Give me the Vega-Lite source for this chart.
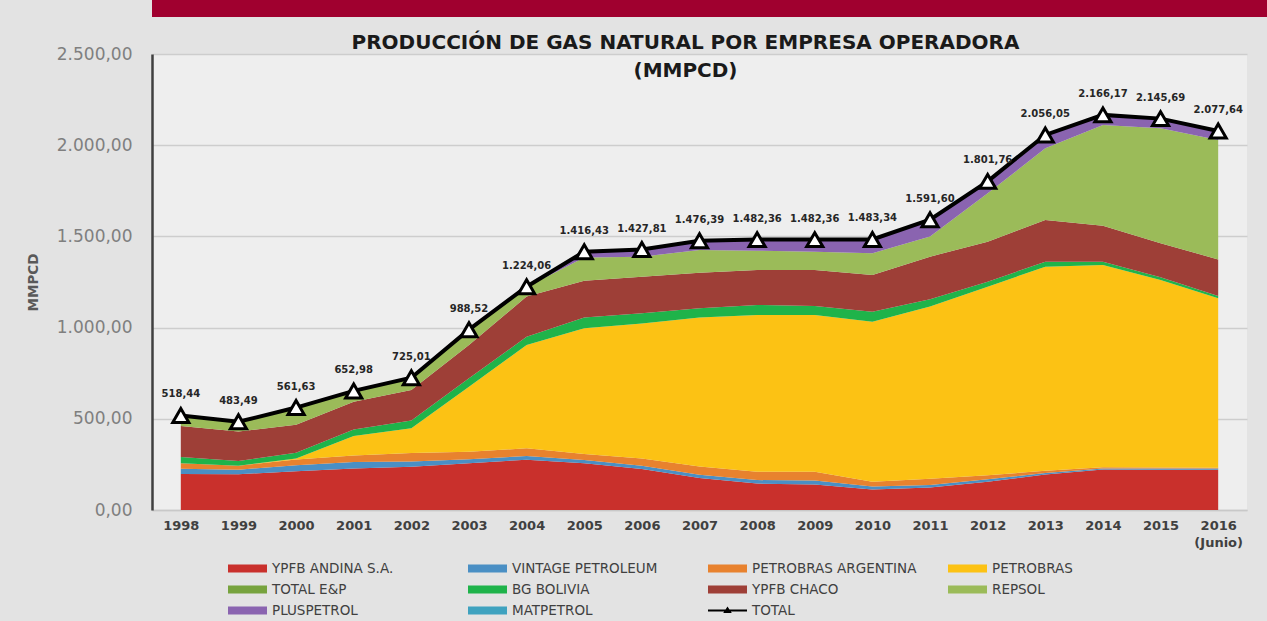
{
"$schema": "https://vega.github.io/schema/vega-lite/v6.json",
"background": "#e3e3e3",
"padding": {"left": 6, "top": 0, "right": 0, "bottom": 12},
"spacing": 16,
"columns": 1,
"align": "none",
"config": {
  "locale": {"number": {"decimal": ",", "thousands": ".", "grouping": [3], "currency": ["", ""]}},
  "view": {"stroke": null},
  "font": "DejaVu Sans"
},
"datasets": {
"empresas": [
{"anio":1998,"empresa":"YPFB ANDINA S.A.","mmpcd":198},{"anio":1999,"empresa":"YPFB ANDINA S.A.","mmpcd":196},{"anio":2000,"empresa":"YPFB ANDINA S.A.","mmpcd":212},{"anio":2001,"empresa":"YPFB ANDINA S.A.","mmpcd":228},{"anio":2002,"empresa":"YPFB ANDINA S.A.","mmpcd":237},{"anio":2003,"empresa":"YPFB ANDINA S.A.","mmpcd":256},{"anio":2004,"empresa":"YPFB ANDINA S.A.","mmpcd":276},{"anio":2005,"empresa":"YPFB ANDINA S.A.","mmpcd":256},{"anio":2006,"empresa":"YPFB ANDINA S.A.","mmpcd":225},{"anio":2007,"empresa":"YPFB ANDINA S.A.","mmpcd":176},{"anio":2008,"empresa":"YPFB ANDINA S.A.","mmpcd":145},{"anio":2009,"empresa":"YPFB ANDINA S.A.","mmpcd":140},{"anio":2010,"empresa":"YPFB ANDINA S.A.","mmpcd":112},{"anio":2011,"empresa":"YPFB ANDINA S.A.","mmpcd":124},{"anio":2012,"empresa":"YPFB ANDINA S.A.","mmpcd":155},{"anio":2013,"empresa":"YPFB ANDINA S.A.","mmpcd":195},{"anio":2014,"empresa":"YPFB ANDINA S.A.","mmpcd":222},{"anio":2015,"empresa":"YPFB ANDINA S.A.","mmpcd":221},{"anio":2016,"empresa":"YPFB ANDINA S.A.","mmpcd":221},
{"anio":1998,"empresa":"VINTAGE PETROLEUM","mmpcd":28},{"anio":1999,"empresa":"VINTAGE PETROLEUM","mmpcd":25},{"anio":2000,"empresa":"VINTAGE PETROLEUM","mmpcd":33},{"anio":2001,"empresa":"VINTAGE PETROLEUM","mmpcd":35},{"anio":2002,"empresa":"VINTAGE PETROLEUM","mmpcd":29},{"anio":2003,"empresa":"VINTAGE PETROLEUM","mmpcd":22},{"anio":2004,"empresa":"VINTAGE PETROLEUM","mmpcd":20},{"anio":2005,"empresa":"VINTAGE PETROLEUM","mmpcd":18},{"anio":2006,"empresa":"VINTAGE PETROLEUM","mmpcd":17},{"anio":2007,"empresa":"VINTAGE PETROLEUM","mmpcd":17},{"anio":2008,"empresa":"VINTAGE PETROLEUM","mmpcd":19},{"anio":2009,"empresa":"VINTAGE PETROLEUM","mmpcd":22},{"anio":2010,"empresa":"VINTAGE PETROLEUM","mmpcd":17},{"anio":2011,"empresa":"VINTAGE PETROLEUM","mmpcd":13},{"anio":2012,"empresa":"VINTAGE PETROLEUM","mmpcd":13},{"anio":2013,"empresa":"VINTAGE PETROLEUM","mmpcd":8},{"anio":2014,"empresa":"VINTAGE PETROLEUM","mmpcd":6},{"anio":2015,"empresa":"VINTAGE PETROLEUM","mmpcd":6},{"anio":2016,"empresa":"VINTAGE PETROLEUM","mmpcd":6},
{"anio":1998,"empresa":"PETROBRAS ARGENTINA","mmpcd":30},{"anio":1999,"empresa":"PETROBRAS ARGENTINA","mmpcd":22},{"anio":2000,"empresa":"PETROBRAS ARGENTINA","mmpcd":32},{"anio":2001,"empresa":"PETROBRAS ARGENTINA","mmpcd":36},{"anio":2002,"empresa":"PETROBRAS ARGENTINA","mmpcd":46},{"anio":2003,"empresa":"PETROBRAS ARGENTINA","mmpcd":42},{"anio":2004,"empresa":"PETROBRAS ARGENTINA","mmpcd":42},{"anio":2005,"empresa":"PETROBRAS ARGENTINA","mmpcd":33},{"anio":2006,"empresa":"PETROBRAS ARGENTINA","mmpcd":41},{"anio":2007,"empresa":"PETROBRAS ARGENTINA","mmpcd":45},{"anio":2008,"empresa":"PETROBRAS ARGENTINA","mmpcd":46},{"anio":2009,"empresa":"PETROBRAS ARGENTINA","mmpcd":48},{"anio":2010,"empresa":"PETROBRAS ARGENTINA","mmpcd":26},{"anio":2011,"empresa":"PETROBRAS ARGENTINA","mmpcd":35},{"anio":2012,"empresa":"PETROBRAS ARGENTINA","mmpcd":22},{"anio":2013,"empresa":"PETROBRAS ARGENTINA","mmpcd":12},{"anio":2014,"empresa":"PETROBRAS ARGENTINA","mmpcd":7},{"anio":2015,"empresa":"PETROBRAS ARGENTINA","mmpcd":6},{"anio":2016,"empresa":"PETROBRAS ARGENTINA","mmpcd":5},
{"anio":1998,"empresa":"PETROBRAS","mmpcd":0},{"anio":1999,"empresa":"PETROBRAS","mmpcd":0},{"anio":2000,"empresa":"PETROBRAS","mmpcd":5},{"anio":2001,"empresa":"PETROBRAS","mmpcd":107},{"anio":2002,"empresa":"PETROBRAS","mmpcd":136},{"anio":2003,"empresa":"PETROBRAS","mmpcd":356},{"anio":2004,"empresa":"PETROBRAS","mmpcd":567},{"anio":2005,"empresa":"PETROBRAS","mmpcd":689},{"anio":2006,"empresa":"PETROBRAS","mmpcd":740},{"anio":2007,"empresa":"PETROBRAS","mmpcd":818},{"anio":2008,"empresa":"PETROBRAS","mmpcd":859},{"anio":2009,"empresa":"PETROBRAS","mmpcd":859},{"anio":2010,"empresa":"PETROBRAS","mmpcd":877},{"anio":2011,"empresa":"PETROBRAS","mmpcd":943},{"anio":2012,"empresa":"PETROBRAS","mmpcd":1034},{"anio":2013,"empresa":"PETROBRAS","mmpcd":1119},{"anio":2014,"empresa":"PETROBRAS","mmpcd":1108},{"anio":2015,"empresa":"PETROBRAS","mmpcd":1028},{"anio":2016,"empresa":"PETROBRAS","mmpcd":929},
{"anio":1998,"empresa":"TOTAL E&P","mmpcd":0},{"anio":1999,"empresa":"TOTAL E&P","mmpcd":0},{"anio":2000,"empresa":"TOTAL E&P","mmpcd":0},{"anio":2001,"empresa":"TOTAL E&P","mmpcd":0},{"anio":2002,"empresa":"TOTAL E&P","mmpcd":0},{"anio":2003,"empresa":"TOTAL E&P","mmpcd":0},{"anio":2004,"empresa":"TOTAL E&P","mmpcd":0},{"anio":2005,"empresa":"TOTAL E&P","mmpcd":0},{"anio":2006,"empresa":"TOTAL E&P","mmpcd":0},{"anio":2007,"empresa":"TOTAL E&P","mmpcd":0},{"anio":2008,"empresa":"TOTAL E&P","mmpcd":0},{"anio":2009,"empresa":"TOTAL E&P","mmpcd":0},{"anio":2010,"empresa":"TOTAL E&P","mmpcd":0},{"anio":2011,"empresa":"TOTAL E&P","mmpcd":0},{"anio":2012,"empresa":"TOTAL E&P","mmpcd":0},{"anio":2013,"empresa":"TOTAL E&P","mmpcd":0},{"anio":2014,"empresa":"TOTAL E&P","mmpcd":0},{"anio":2015,"empresa":"TOTAL E&P","mmpcd":0},{"anio":2016,"empresa":"TOTAL E&P","mmpcd":0},
{"anio":1998,"empresa":"BG BOLIVIA","mmpcd":34},{"anio":1999,"empresa":"BG BOLIVIA","mmpcd":25},{"anio":2000,"empresa":"BG BOLIVIA","mmpcd":32},{"anio":2001,"empresa":"BG BOLIVIA","mmpcd":36},{"anio":2002,"empresa":"BG BOLIVIA","mmpcd":42},{"anio":2003,"empresa":"BG BOLIVIA","mmpcd":46},{"anio":2004,"empresa":"BG BOLIVIA","mmpcd":45},{"anio":2005,"empresa":"BG BOLIVIA","mmpcd":60},{"anio":2006,"empresa":"BG BOLIVIA","mmpcd":55},{"anio":2007,"empresa":"BG BOLIVIA","mmpcd":50},{"anio":2008,"empresa":"BG BOLIVIA","mmpcd":55},{"anio":2009,"empresa":"BG BOLIVIA","mmpcd":49},{"anio":2010,"empresa":"BG BOLIVIA","mmpcd":55},{"anio":2011,"empresa":"BG BOLIVIA","mmpcd":40},{"anio":2012,"empresa":"BG BOLIVIA","mmpcd":28},{"anio":2013,"empresa":"BG BOLIVIA","mmpcd":27},{"anio":2014,"empresa":"BG BOLIVIA","mmpcd":18},{"anio":2015,"empresa":"BG BOLIVIA","mmpcd":15},{"anio":2016,"empresa":"BG BOLIVIA","mmpcd":12},
{"anio":1998,"empresa":"YPFB CHACO","mmpcd":170},{"anio":1999,"empresa":"YPFB CHACO","mmpcd":162},{"anio":2000,"empresa":"YPFB CHACO","mmpcd":154},{"anio":2001,"empresa":"YPFB CHACO","mmpcd":152},{"anio":2002,"empresa":"YPFB CHACO","mmpcd":168},{"anio":2003,"empresa":"YPFB CHACO","mmpcd":183},{"anio":2004,"empresa":"YPFB CHACO","mmpcd":220},{"anio":2005,"empresa":"YPFB CHACO","mmpcd":201},{"anio":2006,"empresa":"YPFB CHACO","mmpcd":201},{"anio":2007,"empresa":"YPFB CHACO","mmpcd":195},{"anio":2008,"empresa":"YPFB CHACO","mmpcd":192},{"anio":2009,"empresa":"YPFB CHACO","mmpcd":198},{"anio":2010,"empresa":"YPFB CHACO","mmpcd":201},{"anio":2011,"empresa":"YPFB CHACO","mmpcd":234},{"anio":2012,"empresa":"YPFB CHACO","mmpcd":219},{"anio":2013,"empresa":"YPFB CHACO","mmpcd":229},{"anio":2014,"empresa":"YPFB CHACO","mmpcd":198},{"anio":2015,"empresa":"YPFB CHACO","mmpcd":186},{"anio":2016,"empresa":"YPFB CHACO","mmpcd":201},
{"anio":1998,"empresa":"REPSOL","mmpcd":57.44},{"anio":1999,"empresa":"REPSOL","mmpcd":52.49},{"anio":2000,"empresa":"REPSOL","mmpcd":92.63},{"anio":2001,"empresa":"REPSOL","mmpcd":57.98},{"anio":2002,"empresa":"REPSOL","mmpcd":66.01},{"anio":2003,"empresa":"REPSOL","mmpcd":82.52},{"anio":2004,"empresa":"REPSOL","mmpcd":53.06},{"anio":2005,"empresa":"REPSOL","mmpcd":128},{"anio":2006,"empresa":"REPSOL","mmpcd":110},{"anio":2007,"empresa":"REPSOL","mmpcd":124},{"anio":2008,"empresa":"REPSOL","mmpcd":106},{"anio":2009,"empresa":"REPSOL","mmpcd":100},{"anio":2010,"empresa":"REPSOL","mmpcd":119},{"anio":2011,"empresa":"REPSOL","mmpcd":110},{"anio":2012,"empresa":"REPSOL","mmpcd":265},{"anio":2013,"empresa":"REPSOL","mmpcd":393},{"anio":2014,"empresa":"REPSOL","mmpcd":552},{"anio":2015,"empresa":"REPSOL","mmpcd":631},{"anio":2016,"empresa":"REPSOL","mmpcd":654},
{"anio":1998,"empresa":"PLUSPETROL","mmpcd":0},{"anio":1999,"empresa":"PLUSPETROL","mmpcd":0},{"anio":2000,"empresa":"PLUSPETROL","mmpcd":0},{"anio":2001,"empresa":"PLUSPETROL","mmpcd":0},{"anio":2002,"empresa":"PLUSPETROL","mmpcd":0},{"anio":2003,"empresa":"PLUSPETROL","mmpcd":0},{"anio":2004,"empresa":"PLUSPETROL","mmpcd":0},{"anio":2005,"empresa":"PLUSPETROL","mmpcd":30.43},{"anio":2006,"empresa":"PLUSPETROL","mmpcd":37.81},{"anio":2007,"empresa":"PLUSPETROL","mmpcd":50.39},{"anio":2008,"empresa":"PLUSPETROL","mmpcd":59.36},{"anio":2009,"empresa":"PLUSPETROL","mmpcd":65.36},{"anio":2010,"empresa":"PLUSPETROL","mmpcd":75.34},{"anio":2011,"empresa":"PLUSPETROL","mmpcd":91.6},{"anio":2012,"empresa":"PLUSPETROL","mmpcd":64.76},{"anio":2013,"empresa":"PLUSPETROL","mmpcd":72.05},{"anio":2014,"empresa":"PLUSPETROL","mmpcd":54.17},{"anio":2015,"empresa":"PLUSPETROL","mmpcd":51.69},{"anio":2016,"empresa":"PLUSPETROL","mmpcd":48.64},
{"anio":1998,"empresa":"MATPETROL","mmpcd":1},{"anio":1999,"empresa":"MATPETROL","mmpcd":1},{"anio":2000,"empresa":"MATPETROL","mmpcd":1},{"anio":2001,"empresa":"MATPETROL","mmpcd":1},{"anio":2002,"empresa":"MATPETROL","mmpcd":1},{"anio":2003,"empresa":"MATPETROL","mmpcd":1},{"anio":2004,"empresa":"MATPETROL","mmpcd":1},{"anio":2005,"empresa":"MATPETROL","mmpcd":1},{"anio":2006,"empresa":"MATPETROL","mmpcd":1},{"anio":2007,"empresa":"MATPETROL","mmpcd":1},{"anio":2008,"empresa":"MATPETROL","mmpcd":1},{"anio":2009,"empresa":"MATPETROL","mmpcd":1},{"anio":2010,"empresa":"MATPETROL","mmpcd":1},{"anio":2011,"empresa":"MATPETROL","mmpcd":1},{"anio":2012,"empresa":"MATPETROL","mmpcd":1},{"anio":2013,"empresa":"MATPETROL","mmpcd":1},{"anio":2014,"empresa":"MATPETROL","mmpcd":1},{"anio":2015,"empresa":"MATPETROL","mmpcd":1},{"anio":2016,"empresa":"MATPETROL","mmpcd":1}
],
"totales": [
{"anio":1998,"total":518.44},{"anio":1999,"total":483.49},{"anio":2000,"total":561.63},{"anio":2001,"total":652.98},{"anio":2002,"total":725.01},{"anio":2003,"total":988.52},{"anio":2004,"total":1224.06},{"anio":2005,"total":1416.43},{"anio":2006,"total":1427.81},{"anio":2007,"total":1476.39},{"anio":2008,"total":1482.36},{"anio":2009,"total":1482.36},{"anio":2010,"total":1483.34},{"anio":2011,"total":1591.60},{"anio":2012,"total":1801.76},{"anio":2013,"total":2056.05},{"anio":2014,"total":2166.17},{"anio":2015,"total":2145.69},{"anio":2016,"total":2077.64}
]
},
"concat": [
{
  "width": 1115, "height": 17,
  "view": {"fill": "#a0002f", "stroke": null},
  "data": {"values": []},
  "mark": "text",
  "encoding": {}
},
{
  "width": 1095, "height": 456,
  "view": {"fill": "#eeeeee", "stroke": null},
  "title": {
    "text": ["PRODUCCIÓN DE GAS NATURAL POR EMPRESA OPERADORA", "(MMPCD)"],
    "font": "DejaVu Sans", "fontSize": 20, "fontWeight": "bold", "color": "#1a1a1a",
    "anchor": "middle", "offset": -36, "lineHeight": 28, "dx": -14
  },
  "layer": [
    {
      "data": {"name": "empresas"},
      "transform": [
        {"calculate": "indexof(['YPFB ANDINA S.A.', 'VINTAGE PETROLEUM', 'PETROBRAS ARGENTINA', 'PETROBRAS', 'TOTAL E&P', 'BG BOLIVIA', 'YPFB CHACO', 'REPSOL', 'PLUSPETROL', 'MATPETROL'], datum.empresa)", "as": "orden"}
      ],
      "mark": {"type": "area", "opacity": 1},
      "encoding": {
        "x": {"field": "anio", "type": "ordinal", "scale": {"type": "point", "padding": 0.5},
          "axis": {"title": null, "labelAngle": 0, "labelFont": "DejaVu Sans", "labelFontSize": 13, "labelFontWeight": "bold", "labelColor": "#404040", "labelPadding": 9, "ticks": false, "domainColor": "#c8c8c8", "domainWidth": 1.5, "grid": false, "labelLineHeight": 17,
            "labelExpr": "datum.value == 2016 ? ['2016', '(Junio)'] : datum.label"}},
        "y": {"field": "mmpcd", "type": "quantitative", "stack": "zero", "scale": {"domain": [0, 2500], "nice": false},
          "axis": {"title": ["", "MMPCD"], "titleFont": "DejaVu Sans", "titleFontSize": 13.5, "titleFontWeight": "bold", "titleColor": "#595959", "titlePadding": 16, "titleLineHeight": 20,
            "values": [0, 500, 1000, 1500, 2000, 2500], "format": ",.2f", "labelFont": "DejaVu Sans", "labelFontSize": 17, "labelColor": "#7f7f7f", "labelPadding": 20, "ticks": false,
            "domain": true, "domainColor": "#404040", "domainWidth": 2.5, "grid": true, "gridColor": "#cdcdcd", "gridWidth": 1.5}},
        "order": {"field": "orden", "type": "quantitative", "sort": "ascending"},
        "color": {"field": "empresa", "type": "nominal",
          "sort": ["YPFB ANDINA S.A.", "VINTAGE PETROLEUM", "PETROBRAS ARGENTINA", "PETROBRAS", "TOTAL E&P", "BG BOLIVIA", "YPFB CHACO", "REPSOL", "PLUSPETROL", "MATPETROL", "TOTAL"],
          "scale": {
            "domain": ["YPFB ANDINA S.A.", "VINTAGE PETROLEUM", "PETROBRAS ARGENTINA", "PETROBRAS", "TOTAL E&P", "BG BOLIVIA", "YPFB CHACO", "REPSOL", "PLUSPETROL", "MATPETROL", "TOTAL"],
            "range": ["#c9302c", "#4a8fc4", "#e8822e", "#fcc214", "#77a33e", "#1fb34a", "#9e3f37", "#9bbb59", "#8a64b0", "#3fa2bf", "#000000"]
          },
          "legend": {
            "title": null, "orient": "none", "legendX": 76, "legendY": 561, "direction": "horizontal", "columns": 4, "gridAlign": "all",
            "columnPadding": 31, "rowPadding": 6, "padding": 0, "clipHeight": 15,
            "labelFont": "DejaVu Sans", "labelFontSize": 13.5, "labelColor": "#404040", "labelLimit": 260, "labelOffset": 5,
            "symbolType": "M-1,-0.2H1V0.2H-1Z",
            "symbolSize": 1521, "symbolStrokeWidth": 0, "symbolOpacity": 1,
            "encode": {"symbols": {"update": {
              "shape": {"signal": "datum.value === 'TOTAL' ? 'M-1,-0.05H1V0.05H-1Z M-0.22,0.13L0,-0.2L0.22,0.13Z' : 'M-1,-0.2H1V0.2H-1Z'"},
              "fill": {"scale": "color", "field": "value"},
              "fillOpacity": {"value": 1},
              "strokeWidth": {"value": 0}
            }}}
          }
        }
      }
    },
    {
      "data": {"name": "totales"},
      "mark": {"type": "line", "strokeWidth": 4},
      "encoding": {
        "x": {"field": "anio", "type": "ordinal"},
        "y": {"field": "total", "type": "quantitative"},
        "color": {"datum": "TOTAL"}
      }
    },
    {
      "data": {"name": "totales"},
      "mark": {"type": "point", "shape": "triangle-up", "filled": true, "fill": "#ffffff", "stroke": "#000000", "strokeWidth": 3, "size": 260, "opacity": 1},
      "encoding": {
        "x": {"field": "anio", "type": "ordinal"},
        "y": {"field": "total", "type": "quantitative"}
      }
    },
    {
      "data": {"name": "totales"},
      "mark": {"type": "text", "dy": -21, "font": "DejaVu Sans", "fontSize": 10, "fontWeight": "bold", "color": "#262626"},
      "encoding": {
        "x": {"field": "anio", "type": "ordinal"},
        "y": {"field": "total", "type": "quantitative"},
        "text": {"field": "total", "type": "quantitative", "format": ",.2f"}
      }
    }
  ]
}
]
}
